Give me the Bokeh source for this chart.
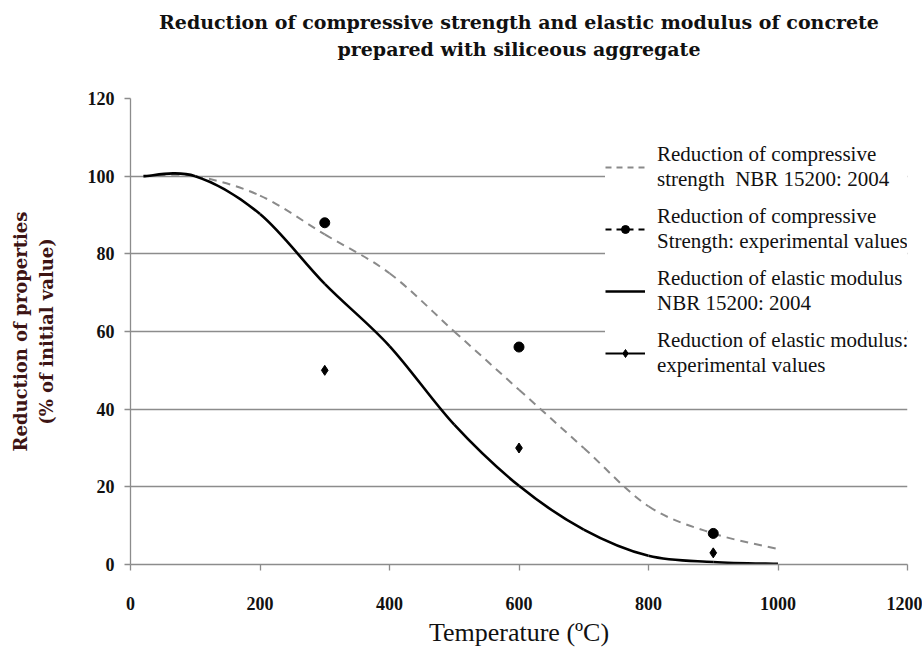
import numpy as np
from bokeh.plotting import figure
from bokeh.models import Legend, LegendItem, LinearAxis, FixedTicker, Range1d
from bokeh.embed import file_html
from bokeh.resources import INLINE

# ---- data ----
temps = [20, 100, 200, 300, 400, 500, 600, 700, 800, 900, 1000]
strength_nbr = [100, 100, 95, 85, 75, 60, 45, 30, 15, 8, 4]
modulus_nbr = [100, 100, 90.25, 72.25, 56.25, 36, 20.25, 9, 2.25, 0.64, 0.16]
exp_temps = [300, 600, 900]
strength_exp = [88, 56, 8]
modulus_exp = [50, 30, 3]
x_ticks = [0, 200, 400, 600, 800, 1000, 1200]
y_ticks = [0, 20, 40, 60, 80, 100, 120]

title_text = ("Reduction of compressive strength and elastic modulus of concrete\n"
              "prepared with siliceous aggregate")
legend_labels = ["Reduction of compressive\nstrength  NBR 15200: 2004",
                 "Reduction of compressive\nStrength: experimental values",
                 "Reduction of elastic modulus\nNBR 15200: 2004",
                 "Reduction of elastic modulus:\nexperimental values"]

SERIF = "Liberation Serif, Times New Roman, serif"
SERIF_WIDE = "DejaVu Serif, serif"


def smooth_segments(xs, ys):
    """Bezier control points for a smoothed line through the data points."""
    x = np.asarray(xs, float)
    y = np.asarray(ys, float)
    n = len(x)
    xp = np.concatenate([[x[0]], x, [x[-1]]])
    yp = np.concatenate([[y[0]], y, [y[-1]]])
    d = dict(x0=[], y0=[], x1=[], y1=[], cx0=[], cy0=[], cx1=[], cy1=[])
    for i in range(n - 1):
        j = i + 1
        d["x0"].append(x[i]); d["y0"].append(y[i])
        d["x1"].append(x[i + 1]); d["y1"].append(y[i + 1])
        d["cx0"].append(x[i] + (xp[j + 1] - xp[j - 1]) / 6)
        d["cy0"].append(y[i] + (yp[j + 1] - yp[j - 1]) / 6)
        d["cx1"].append(x[i + 1] - (xp[j + 2] - xp[j]) / 6)
        d["cy1"].append(y[i + 1] - (yp[j + 2] - yp[j]) / 6)
    return d


p = figure(width=922, height=649, output_backend="svg", toolbar_location=None,
           x_range=Range1d(0, 1200), y_range=Range1d(0, 120),
           min_border_left=130, min_border_right=15, min_border_top=98,
           min_border_bottom=80)
p.outline_line_color = None
p.background_fill_color = "white"
p.border_fill_color = "white"

# chart title: drawn as the label of a bare axis above the frame (centred lines)
title_axis = LinearAxis(ticker=FixedTicker(ticks=[]), axis_label=title_text,
                        axis_line_color=None, major_tick_line_color=None,
                        minor_tick_line_color=None,
                        major_tick_out=0, major_tick_in=0,
                        major_label_text_font_size="0px",
                        major_label_text_alpha=0, major_label_standoff=0,
                        axis_label_text_font=SERIF_WIDE,
                        axis_label_text_font_size="19px",
                        axis_label_text_font_style="bold",
                        axis_label_text_color="#111111",
                        axis_label_standoff=39)
p.add_layout(title_axis, "above")

p.xaxis.ticker = FixedTicker(ticks=x_ticks)
p.yaxis.ticker = FixedTicker(ticks=y_ticks)
p.xgrid.grid_line_color = None
p.ygrid.grid_line_color = "#8c8c8c"
p.ygrid.grid_line_width = 1.3
for ax in (p.below[0], p.yaxis[0]):
    ax.axis_line_color = "#8c8c8c"
    ax.axis_line_width = 1.3
    ax.major_tick_line_color = "#8c8c8c"
    ax.major_tick_line_width = 1.3
    ax.major_tick_out = 6
    ax.major_tick_in = 0
    ax.minor_tick_line_color = None
    ax.major_label_text_font = "Liberation Sans Narrow"
    ax.major_label_text_font_style = "bold"
    ax.major_label_text_font_size = "18px"
    ax.major_label_text_color = "#111111"

xax = p.below[0]
xax.major_label_standoff = 26
xax.axis_label = "Temperature (\u00baC)"
xax.axis_label_text_font = SERIF
xax.axis_label_text_font_style = "normal"
xax.axis_label_text_font_size = "26px"
xax.axis_label_text_color = "#111111"
xax.axis_label_standoff = 5

yax = p.yaxis[0]
yax.major_label_standoff = 10
yax.axis_label = "Reduction of properties\n(% of initial value)"
yax.axis_label_text_font = SERIF_WIDE
yax.axis_label_text_font_style = "bold"
yax.axis_label_text_font_size = "18px"
yax.axis_label_text_color = "#3d1414"
yax.axis_label_standoff = 28

# smoothed NBR curves
s1 = smooth_segments(temps, strength_nbr)
r_s_line = p.bezier(x0="x0", y0="y0", x1="x1", y1="y1", cx0="cx0", cy0="cy0",
                    cx1="cx1", cy1="cy1", source=s1, line_color="#8a8a8a",
                    line_width=2, line_dash="8 6")
s2 = smooth_segments(temps, modulus_nbr)
r_m_line = p.bezier(x0="x0", y0="y0", x1="x1", y1="y1", cx0="cx0", cy0="cy0",
                    cx1="cx1", cy1="cy1", source=s2, line_color="#000000",
                    line_width=2.6)

# legend-only line proxies
leg_s = p.line(x=[np.nan], y=[np.nan], line_color="#8a8a8a", line_width=2, line_dash="6 5")
leg_se = p.line(x=[np.nan], y=[np.nan], line_color="#000000", line_width=2, line_dash="6 5")
leg_m = p.line(x=[np.nan], y=[np.nan], line_color="#000000", line_width=2.6)
leg_me = p.line(x=[np.nan], y=[np.nan], line_color="#000000", line_width=2.2)

# experimental points
r_se = p.scatter(exp_temps, strength_exp, marker="circle", size=10,
                 fill_color="black", line_color="black")
r_me = p.scatter(exp_temps, modulus_exp, marker="diamond", size=10,
                 fill_color="black", line_color="black")

legend = Legend(items=[
    LegendItem(label=legend_labels[0], renderers=[leg_s]),
    LegendItem(label=legend_labels[1], renderers=[leg_se, r_se]),
    LegendItem(label=legend_labels[2], renderers=[leg_m]),
    LegendItem(label=legend_labels[3], renderers=[leg_me, r_me]),
], location=(475, 186))
legend.label_text_font = SERIF
legend.label_text_font_size = "21px"
legend.label_text_color = "#111111"
legend.glyph_width = 40
legend.glyph_height = 20
legend.label_standoff = 12
legend.spacing = 12
legend.padding = 10
legend.margin = 0
legend.border_line_color = None
legend.background_fill_color = "white"
legend.background_fill_alpha = 1.0
p.add_layout(legend)

open("out.html", "w").write(file_html(p, INLINE))
